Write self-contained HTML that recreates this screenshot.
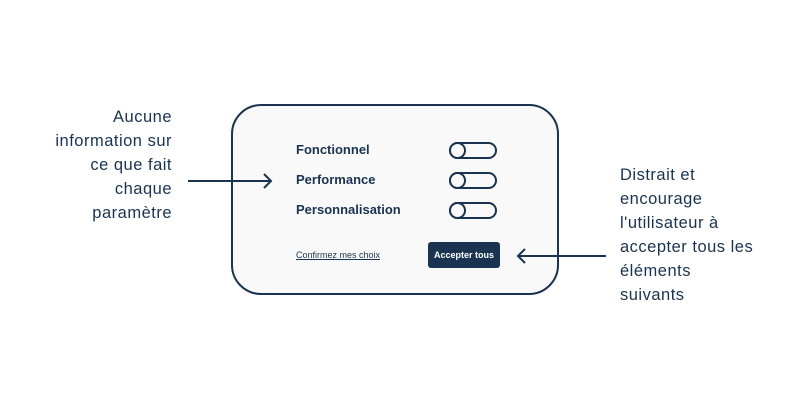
<!DOCTYPE html>
<html><head><meta charset="utf-8"><style>
body{margin:0;width:800px;height:400px;background:#fff;font-family:"Liberation Sans",sans-serif;color:#1a3350;position:relative;overflow:hidden}
.t{position:absolute;font-size:16.5px;line-height:24px;letter-spacing:0.5px}
.lab{position:absolute;left:296px;font-weight:bold;font-size:13px;line-height:16px}
.tg{position:absolute;left:449px;width:44px;height:13px;border:2px solid #1a3350;border-radius:9px}
.tg::before{content:"";position:absolute;left:-2px;top:-2px;width:13px;height:13px;border:2px solid #1a3350;border-radius:50%;background:#f9f9f9}
</style></head><body>
<div style="position:absolute;left:231px;top:104px;width:324px;height:187px;border:2px solid #1a3350;border-radius:30px;background:#f9f9f9"></div>
<div class="t" style="right:628px;top:105px;text-align:right;width:170px">Aucune<br>information sur<br>ce que fait<br>chaque<br>paramètre</div>
<div class="t" style="left:620px;top:163px;width:178px">Distrait et<br>encourage<br>l'utilisateur à<br>accepter tous les<br>éléments<br>suivants</div>
<div class="lab" style="top:142px">Fonctionnel</div>
<div class="lab" style="top:172px">Performance</div>
<div class="lab" style="top:202px">Personnalisation</div>
<div class="tg" style="top:142px"></div>
<div class="tg" style="top:172px"></div>
<div class="tg" style="top:202px"></div>
<div style="position:absolute;left:296px;top:250px;font-size:9px;text-decoration:underline">Confirmez mes choix</div>
<div style="position:absolute;left:428px;top:242px;width:72px;height:26px;background:#1a3350;border-radius:3px;color:#fff;font-size:9px;font-weight:bold;text-align:center;line-height:26px">Accepter tous</div>
<svg width="800" height="400" style="position:absolute;left:0;top:0" fill="none" stroke="#1a3350" stroke-width="2">
<path d="M188 181H271M264 174L271 181L264 188"/>
<path d="M606 256H518M525 249L518 256L525 263"/>
</svg>
</body></html>
